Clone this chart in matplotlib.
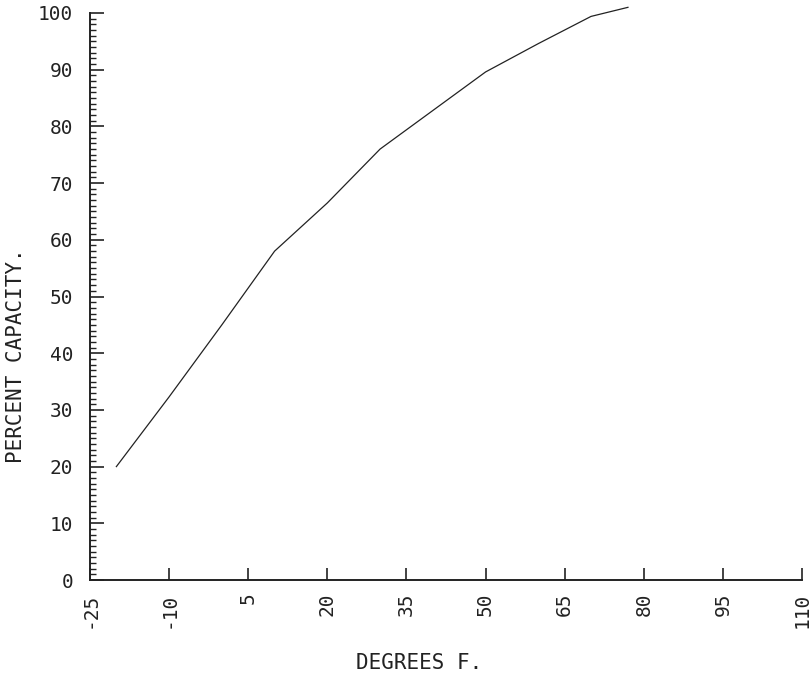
import matplotlib
matplotlib.use("Agg")
import matplotlib.pyplot as plt
from matplotlib.ticker import MultipleLocator, FixedLocator

# Data
temps_f = [-20, -10, 0, 10, 20, 30, 40, 50, 60, 70, 77]
capacity = [20, 32.3, 45, 58, 66.5, 76, 82.8, 89.6, 94.6, 99.4, 101]

x_ticks = [-25, -10, 5, 20, 35, 50, 65, 80, 95, 110]
y_ticks = [0, 10, 20, 30, 40, 50, 60, 70, 80, 90, 100]

ink = "#222222"
font = "DejaVu Sans Mono"

fig = plt.figure(figsize=(8.12, 6.77), dpi=100)
ax = fig.add_axes([90 / 812, 1 - 580 / 677, 712 / 812, 567 / 677])

ax.plot(temps_f, capacity, color=ink, lw=0.9, clip_on=False)

ax.set_xlim(-25, 110)
ax.set_ylim(0, 100)

ax.spines["top"].set_visible(False)
ax.spines["right"].set_visible(False)
for s in ("left", "bottom"):
    ax.spines[s].set_linewidth(1.4)
    ax.spines[s].set_color(ink)

ax.xaxis.set_major_locator(FixedLocator(x_ticks))
ax.yaxis.set_major_locator(FixedLocator(y_ticks))
ax.yaxis.set_minor_locator(MultipleLocator(1))
ax.set_xticklabels([str(v) for v in x_ticks], rotation=90,
                   fontfamily=font, fontsize=14, color=ink)
ax.set_yticklabels([str(v) for v in y_ticks],
                   fontfamily=font, fontsize=14, color=ink)

ax.tick_params(axis="x", which="major", direction="in", length=9,
               width=1.2, color=ink, pad=9)
ax.tick_params(axis="y", which="major", direction="in", length=10,
               width=1.2, color=ink, pad=12)
ax.tick_params(axis="y", which="minor", direction="in", length=4,
               width=1.0, color=ink)

fig.text(16 / 812, 1 - 356 / 677, "PERCENT CAPACITY.", rotation=90,
         ha="center", va="center", fontfamily=font, fontsize=15, color=ink)
fig.text(419 / 812, 1 - 663 / 677, "DEGREES F.", ha="center", va="center",
         fontfamily=font, fontsize=15, color=ink)

fig.savefig("out.png", dpi=100)
